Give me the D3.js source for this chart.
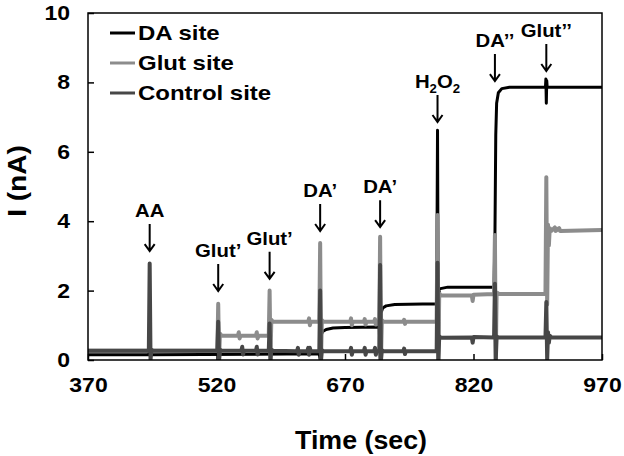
<!DOCTYPE html>
<html>
<head>
<meta charset="utf-8">
<script src="https://cdn.jsdelivr.net/npm/d3@7"></script>
<style>
    body { margin: 0; background: #fff; }
    text { font-family: "Liberation Sans", Arial, sans-serif; font-weight: bold; }
</style>
</head>
<body>
<div id="chart"></div>
<script>
// [time (sec), current (nA)]
var daSite = [[370,0.15],[441,0.15],[442,0.3],[443,0.15],[640,0.18],[641,0],[642,0.72],[644,0.82],[648,0.88],[656,0.92],[670,0.94],[710,0.95],[711,0],[712,1.35],[714,1.5],[718,1.56],[728,1.6],[777,1.62],[778,6.62],[779,0],[780,2.05],[790,2.1],[844,2.1],[845,3.5],[846,6.5],[847,7.4],[849,7.7],[853,7.82],[862,7.86],[904,7.86],[904.5,8.1],[905,7.4],[905.5,8.05],[906,7.86],[970,7.86]];

var glutSite = [[370,0.27],[521,0.27],[522,1.62],[523,0],[524,0.76],[526,0.7],[545,0.7],[546,0.8],[547,0.62],[548,0.7],[566,0.7],[567,0.8],[568,0.62],[569,0.7],[581,0.7],[582,2.0],[583,0],[584,1.16],[586,1.1],[627,1.1],[628,1.2],[629,1.0],[630,1.1],[640,1.1],[641,3.37],[642,0],[643,1.15],[645,1.1],[676,1.1],[677,1.2],[678,1.0],[679,1.1],[692,1.1],[693,1.18],[694,1.02],[695,1.1],[704,1.1],[705,1.18],[706,1.02],[707,1.1],[710,1.1],[711,3.55],[712,0],[713,1.15],[715,1.1],[738,1.1],[739,1.16],[740,1.04],[741,1.1],[777,1.1],[778,4.18],[779,0],[780,1.92],[782,1.86],[818,1.86],[819,1.7],[820,1.88],[844,1.9],[845,3.6],[846,0],[847,1.95],[850,1.9],[904,1.9],[905,5.27],[906,1.6],[907,3.9],[908,3.3],[909,3.8],[911,3.72],[915,3.82],[916,3.72],[920,3.8],[921,3.72],[970,3.75]];

var controlSite = [[370,0.27],[441,0.27],[442,2.78],[443,0],[444,0.3],[446,0.27],[521,0.27],[522,1.1],[523,0],[524,0.3],[526,0.27],[549,0.27],[550,0.38],[551,0.16],[552,0.27],[566,0.27],[567,0.38],[568,0.16],[569,0.27],[581,0.27],[582,1.05],[583,0],[584,0.3],[586,0.27],[614,0.25],[615,0.35],[616,0.15],[617,0.25],[626,0.25],[627,0.35],[628,0.15],[629,0.35],[630,0.25],[640,0.25],[641,2.0],[642,0],[643,0.28],[645,0.25],[676,0.25],[677,0.35],[678,0.15],[679,0.25],[692,0.25],[693,0.35],[694,0.15],[695,0.25],[704,0.25],[705,0.35],[706,0.15],[707,0.25],[710,0.25],[711,2.74],[712,0],[713,0.28],[715,0.25],[738,0.25],[739,0.33],[740,0.17],[741,0.25],[777,0.25],[778,2.8],[779,0],[780,0.68],[782,0.64],[818,0.65],[819,0.5],[820,0.66],[844,0.65],[845,2.2],[846,0],[847,0.68],[849,0.65],[904,0.65],[905,1.67],[906,0],[907,0.8],[908,0.5],[909,0.7],[911,0.65],[970,0.65]];

var seriesNames = ["DA site", "Glut site", "Control site"];
var xTicks = [370, 520, 670, 820, 970];
var yTicks = [0, 2, 4, 6, 8, 10];

// injections: time, label, level (nA) where the arrow points
var injTimes = [442, 522, 582, 641, 711, 778, 845, 905];
var injLabels = ["AA", "Glut\u2019", "Glut\u2019", "DA\u2019", "DA\u2019", "H2O2", "DA\u2019\u2019", "Glut\u2019\u2019"];
var injLevels = [3.11, 1.96, 2.31, 3.69, 3.8, 6.83, 8.01, 8.3];

var margin = {top: 13, right: 22, bottom: 96, left: 88},
    width = 624 - margin.left - margin.right,
    height = 456 - margin.top - margin.bottom;

var stretch = "scale(1.15,1)";

var svg = d3.select("#chart")
    .append("svg")
    .attr("width", 624)
    .attr("height", 456)
    .append("g")
    .attr("transform", "translate(" + margin.left + "," + margin.top + ")");

var xScale = d3.scaleLinear().domain([370, 970]).range([0, width]);
var yScale = d3.scaleLinear().domain([0, 10]).range([height, 0]);

svg.append("defs").append("clipPath").attr("id", "clip")
    .append("rect").attr("width", width).attr("height", height);

var xAxis = svg.append("g")
    .attr("class", "x-axis")
    .attr("transform", "translate(0," + height + ")")
    .call(d3.axisBottom(xScale).tickValues(xTicks).tickSize(-6).tickPadding(18));

var yAxis = svg.append("g")
    .attr("class", "y-axis")
    .call(d3.axisLeft(yScale).tickValues(yTicks).tickSize(-6).tickPadding(15));

svg.selectAll(".domain").remove();
svg.selectAll(".tick line").attr("stroke", "#000").attr("stroke-width", 1.5);
svg.selectAll(".tick text")
    .attr("font-size", 20)
    .attr("font-family", "Liberation Sans, Arial, sans-serif")
    .attr("font-weight", "bold")
    .attr("fill", "#000");
xAxis.selectAll(".tick text").attr("transform", stretch);
yAxis.selectAll(".tick text").attr("transform", "translate(-18,0) " + stretch + " translate(15,0)");

var line = d3.line()
    .x(function(d) { return xScale(d[0]); })
    .y(function(d) { return yScale(d[1]); });

var colors = ["#000000", "#8c8c8c", "#474747"];
var widths = [3, 4, 4];
var allSeries = [daSite, glutSite, controlSite];

var lines = svg.append("g").attr("clip-path", "url(#clip)");
lines.selectAll("path")
    .data(allSeries)
    .enter()
    .append("path")
    .attr("d", line)
    .attr("fill", "none")
    .attr("stroke", function(d, i) { return colors[i]; })
    .attr("stroke-width", function(d, i) { return widths[i]; })
    .attr("stroke-linejoin", "round");

// frame
svg.append("rect")
    .attr("width", width)
    .attr("height", height)
    .attr("fill", "none")
    .attr("stroke", "#000")
    .attr("stroke-width", 1.5);

// legend
var legend = svg.selectAll(".legend")
    .data(seriesNames)
    .enter()
    .append("g")
    .attr("class", "legend")
    .attr("transform", function(d, i) { return "translate(22," + (20 + i * 30) + ")"; });

legend.append("line")
    .attr("x1", 0).attr("x2", 25)
    .attr("stroke", function(d, i) { return colors[i]; })
    .attr("stroke-width", 3);

legend.append("text")
    .attr("transform", "translate(28,0) scale(1.17,1)")
    .attr("dy", "0.36em")
    .attr("font-size", 20.5)
    .text(function(d) { return d; });

// injection arrows
var ann = svg.selectAll(".ann")
    .data(injTimes)
    .enter()
    .append("g")
    .attr("class", "ann")
    .attr("transform", function(d, i) { return "translate(" + xScale(d) + "," + yScale(injLevels[i]) + ")"; });

ann.append("path")
    .attr("d", "M0,-28V-1M-5,-8L0,-1L5,-8")
    .attr("fill", "none")
    .attr("stroke", "#000")
    .attr("stroke-width", 2);

var annText = ann.append("text")
    .attr("transform", "translate(0,-35) scale(1.1,1)")
    .attr("text-anchor", "middle")
    .attr("font-size", 18.5);

annText.each(function(d, i) {
    var t = d3.select(this);
    if (injLabels[i] === "H2O2") {
        t.append("tspan").text("H");
        t.append("tspan").attr("font-size", 12).attr("dy", 5).text("2");
        t.append("tspan").attr("dy", -5).text("O");
        t.append("tspan").attr("font-size", 12).attr("dy", 5).text("2");
    } else {
        t.text(injLabels[i]);
    }
});

// axis titles
svg.append("text")
    .attr("transform", "translate(" + (361 - margin.left) + "," + (449 - margin.top) + ") scale(1.03,1)")
    .attr("text-anchor", "middle")
    .attr("font-size", 26)
    .text("Time (sec)");

svg.append("text")
    .attr("transform", "translate(" + (26 - margin.left) + "," + (181 - margin.top) + ") rotate(-90) scale(1.08,1)")
    .attr("text-anchor", "middle")
    .attr("font-size", 26)
    .text("I (nA)");
</script>
</body>
</html>
